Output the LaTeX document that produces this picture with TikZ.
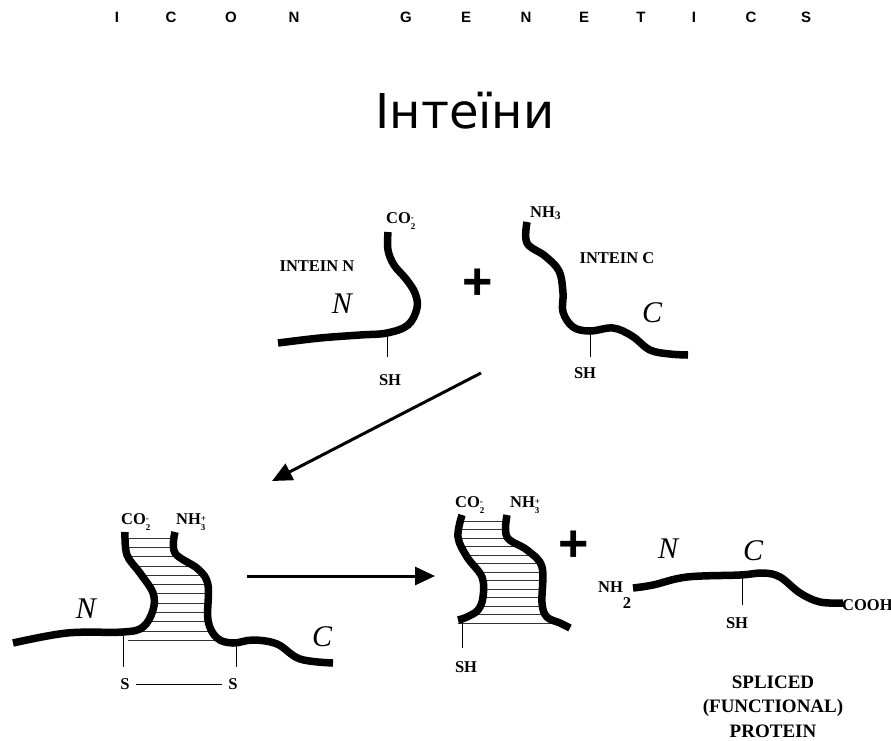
\documentclass[tikz,border=0pt]{standalone}
\usepackage{fontspec}
\setmainfont{Liberation Serif}
\newfontfamily\titlefont{DejaVu Sans}
\newfontfamily\headfont{Liberation Sans}
\usetikzlibrary{arrows.meta}

% charged ends: subscript under superscript, in one box
\newcommand\subsup[2]{\raisebox{-0.9ex}{\fontsize{9}{10.5}\selectfont\shortstack[l]{#2\\#1}}}

\tikzset{
  chain/.style={line width=7.5pt, line join=round},
  tick/.style={line width=0.8pt},
  hatch/.style={line width=0.7pt, black!80},
  lbl/.style={font=\bfseries\fontsize{16.5}{18}\selectfont, inner sep=0pt, anchor=base},
  term/.style={font=\itshape\fontsize{30}{32}\selectfont, inner sep=0pt, anchor=base},
  hdr/.style={font=\headfont\bfseries\fontsize{15}{17}\selectfont, inner sep=0pt, anchor=base},
  bigarrow/.style={line width=3pt, -{Triangle[length=20pt, width=18pt]}},
}

\begin{document}
\begin{tikzpicture}[x=1pt, y=-1pt]
    \useasboundingbox[fill=white] (0,0) rectangle (891,740);

    %header and title
    \foreach \x/\c [count=\i] in {117/I,171/C,231/O,294/N,406/G,466/E,526/N,584/E,641/T,694/I,751/C,806/S}
        \node[hdr] (hdr\i) at (\x,22) {\c};
    \node[font=\titlefont\fontsize{48}{52}\selectfont, inner sep=0pt, anchor=base] (title) at (465,128) {Інтеїни};

    %intein N
    \draw[chain] plot[smooth, tension=0.6] coordinates {(278,343) (320,338) (360,335) (387,333) (408,325) (417,308) (415,293) (406,279) (394,265) (388,250) (388,232)};
    \coordinate (shNa) at (387,333);
    \draw[tick] (shNa) -- ++(0,24);
    \node[lbl] (shN) at (390,385) {SH};
    \node[lbl, anchor=base west] (coN) at (386,223) {CO\subsup{2}{-}};
    \node[lbl] (intN) at (317,271) {INTEIN N};
    \node[term] (termN) at (342,313) {N};

    \node[font=\headfont\bfseries\fontsize{52}{56}\selectfont, inner sep=0pt] (plusA) at (478,284) {+};

    %intein C
    \draw[chain] plot[smooth, tension=0.6] coordinates {(527,222) (527,243) (545,256) (559,271) (563,293) (563,312) (573,327) (590,331) (613,328) (632,336) (650,350) (670,354) (688,355)};
    \coordinate (shCa) at (590,331);
    \draw[tick] (shCa) -- ++(0,26);
    \node[lbl] (shC) at (585,378) {SH};
    \node[lbl, anchor=base west] (nhC) at (530,217) {NH\textsubscript{3}};
    \node[lbl] (intC) at (617,263) {INTEIN C};
    \node[term] (termC) at (652,322) {C};

    %arrows
    \coordinate (arA1) at (481,373);
    \coordinate (arA2) at (272,481);
    \draw[bigarrow] (arA1) -- (arA2);
    \coordinate (arB1) at (247,576);
    \coordinate (arB2) at (435,576);
    \draw[bigarrow] (arB1) -- (arB2);

    %joined complex
    \begin{scope}
        \clip plot[smooth, tension=0.6] coordinates {(125,532) (127,555) (140,573) (153,593) (153,610) (143,627) (128,634)}
            -- (128,642) -- (218,642)
            -- plot[smooth, tension=0.6] coordinates {(217,638) (208,620) (208,585) (198,569) (175,553) (175,532)} -- cycle;
        \foreach \y in {538,547.3,...,641}
            \draw[hatch] (100,\y) -- (260,\y);
    \end{scope}
    \draw[chain] plot[smooth, tension=0.6] coordinates {(13,643) (67,633) (123,632) (143,627) (153,610) (153,593) (140,573) (127,555) (125,532)};
    \draw[chain] plot[smooth, tension=0.6] coordinates {(175,532) (175,553) (198,569) (208,585) (208,620) (217,638) (233,643) (253,640) (277,644) (300,659) (333,663)};
    \coordinate (sA) at (123,636);
    \coordinate (sB) at (236,643);
    \draw[tick] (sA) -- (123,667);
    \draw[tick] (sB) -- (236,667);
    \node[lbl] (sL) at (125,689) {S};
    \node[lbl] (sR) at (233,689) {S};
    \draw[tick] ([xshift=6pt,yshift=5pt]sL.base east) -- ([xshift=-6pt,yshift=5pt]sR.base west);
    \node[lbl, anchor=base west] (coJ) at (121,524) {CO\subsup{2}{-}};
    \node[lbl, anchor=base west] (nhJ) at (176,524) {NH\subsup{3}{+}};
    \node[term] (termNJ) at (86,618) {N};
    \node[term] (termCJ) at (322,646) {C};

    %excised intein
    \begin{scope}
        \clip plot[smooth, tension=0.6] coordinates {(462,515) (458,537) (467,557) (482,577) (483,597) (478,610) (467,617) (458,620)}
            -- (458,626) -- (575,626)
            -- plot[smooth, tension=0.6] coordinates {(570,628) (560,623) (547,617) (542,603) (542,567) (527,550) (507,537) (507,515)} -- cycle;
        \foreach \y in {521,529.5,...,624}
            \draw[hatch] (440,\y) -- (590,\y);
    \end{scope}
    \draw[chain] plot[smooth, tension=0.6] coordinates {(462,515) (458,537) (467,557) (482,577) (483,597) (478,610) (467,617) (458,620)};
    \draw[chain] plot[smooth, tension=0.6] coordinates {(507,515) (507,537) (527,550) (542,567) (542,603) (547,617) (560,623) (570,628)};
    \coordinate (shEa) at (462,620);
    \draw[tick] (shEa) -- ++(0,28);
    \node[lbl] (shE) at (466,672) {SH};
    \node[lbl, anchor=base west] (coE) at (455,507) {CO\subsup{2}{-}};
    \node[lbl, anchor=base west] (nhE) at (510,507) {NH\subsup{3}{+}};

    \node[font=\headfont\bfseries\fontsize{52}{56}\selectfont, inner sep=0pt] (plusB) at (574,546) {+};

    %spliced protein
    \draw[chain] plot[smooth, tension=0.6] coordinates {(633,588) (653,585) (687,577) (740,575) (763,573) (780,577) (800,593) (820,602) (843,603)};
    \coordinate (shSa) at (742,575);
    \draw[tick] (shSa) -- ++(0,30);
    \node[lbl] (shS) at (737,628) {SH};
    \node[lbl, anchor=base west] (nhS) at (598,592) {NH\raisebox{-16pt}{2}};
    \node[lbl, anchor=base west] (coohS) at (842,610) {COOH};
    \node[term] (termNS) at (668,558) {N};
    \node[term] (termCS) at (753,560) {C};
    \node[font=\bfseries\fontsize{19}{24.5}\selectfont, align=center, inner sep=0pt, anchor=base] (spliced) at (773,737) {SPLICED\\(FUNCTIONAL)\\PROTEIN};
\end{tikzpicture}
\end{document}
